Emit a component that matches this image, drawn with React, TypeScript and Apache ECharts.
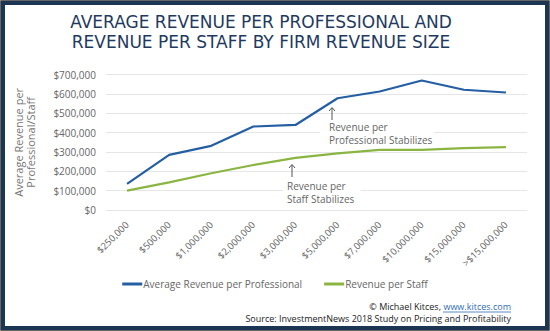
import React, { useEffect, useRef } from "react";
import * as echarts from "echarts";

const categories = ["$250,000", "$500,000", "$1,000,000", "$2,000,000", "$3,000,000", "$5,000,000", "$7,000,000", "$10,000,000", "$15,000,000", ">$15,000,000"];
const perProfessional = [135000, 285000, 332000, 432000, 440000, 578000, 613000, 670000, 622000, 608000];
const perStaff = [100000, 143000, 190000, 233000, 270000, 293000, 311000, 311000, 320000, 325000];
const seriesNames = ["Average Revenue per Professional", "Revenue per Staff"];
const titleLines = ["AVERAGE REVENUE PER PROFESSIONAL AND", "REVENUE PER STAFF BY FIRM REVENUE SIZE"];

const FONT = "'Open Sans', 'Noto Sans', sans-serif";
const TITLE_FONT = "'DejaVu Sans', 'Open Sans', sans-serif";

export default function App() {
  const ref = useRef<HTMLDivElement>(null);
  useEffect(() => {
    if (!ref.current) return;
    const chart = echarts.init(ref.current, null, { renderer: "svg" });
    chart.setOption({
      animation: false,
      backgroundColor: "#ffffff",
      textStyle: { fontFamily: FONT },
      grid: { left: 106, right: 23, top: 74.7, bottom: 121, containLabel: false },
      legend: {
        data: seriesNames,
        top: 274,
        left: "center",
        icon: "rect",
        itemWidth: 20,
        itemHeight: 3,
        itemGap: 22,
        textStyle: { fontSize: 10, color: "#666666", fontFamily: FONT, padding: [0, 0, 0, -4] },
      },
      xAxis: {
        type: "category",
        data: categories,
        boundaryGap: true,
        axisLine: { show: false },
        axisTick: { show: false },
        axisLabel: { rotate: 45, fontSize: 9.5, color: "#666666", margin: 13, interval: 0 },
      },
      yAxis: {
        type: "value",
        min: 0,
        max: 700000,
        interval: 100000,
        name: "Average Revenue per\nProfessional/Staff",
        nameLocation: "middle",
        nameRotate: 90,
        nameGap: 70,
        nameTextStyle: { fontSize: 11, color: "#777777", lineHeight: 12 },
        axisLabel: {
          fontSize: 10,
          color: "#666666",
          margin: 10,
          formatter: (v: number) => "$" + v.toLocaleString("en-US"),
        },
        splitLine: { lineStyle: { color: "#e6e6e6", width: 1 } },
      },
      series: [
        {
          name: seriesNames[0],
          type: "line",
          data: perProfessional,
          symbol: "none",
          lineStyle: { color: "#245ea3", width: 2.2 },
          itemStyle: { color: "#245ea3" },
          z: 3,
        },
        {
          name: seriesNames[1],
          type: "line",
          data: perStaff,
          symbol: "none",
          lineStyle: { color: "#8bb542", width: 2.2 },
          itemStyle: { color: "#8bb542" },
          z: 3,
        },
      ],
      graphic: [
        { type: "rect", shape: { x: 0.5, y: 0.5, width: 549, height: 330 }, style: { fill: "none", stroke: "#666666", lineWidth: 1 }, z: 100 },
        { type: "rect", shape: { x: 3, y: 3, width: 544, height: 325 }, style: { fill: "none", stroke: "#1c3552", lineWidth: 4 }, z: 100 },
        {
          type: "text", x: 261, y: 22,
          style: { text: titleLines[0], fill: "#1f3a5f", font: "17px " + TITLE_FONT, textAlign: "center", textVerticalAlign: "middle" },
        },
        {
          type: "text", x: 261, y: 42,
          style: { text: titleLines[1], fill: "#1f3a5f", font: "17px " + TITLE_FONT, textAlign: "center", textVerticalAlign: "middle" },
        },
        // annotation 1
        { type: "line", shape: { x1: 332, y1: 108, x2: 332, y2: 120 }, style: { stroke: "#555555", lineWidth: 1 }, z: 10 },
        { type: "polyline", shape: { points: [[329, 111], [332, 107.5], [335, 111]] }, style: { stroke: "#555555", lineWidth: 1, fill: "none" }, z: 10 },
        { type: "rect", shape: { x: 320, y: 121, width: 114, height: 25 }, style: { fill: "#ffffff" }, z: 9 },
        {
          type: "text", x: 329, y: 120.5,
          style: { text: "Revenue per\nProfessional Stabilizes", fill: "#666666", font: "10px " + FONT, lineHeight: 13 }, z: 10,
        },
        // annotation 2
        { type: "line", shape: { x1: 292, y1: 165, x2: 292, y2: 177 }, style: { stroke: "#555555", lineWidth: 1 }, z: 10 },
        { type: "polyline", shape: { points: [[289, 168], [292, 164.5], [295, 168]] }, style: { stroke: "#555555", lineWidth: 1, fill: "none" }, z: 10 },
        { type: "rect", shape: { x: 283, y: 179, width: 78, height: 26 }, style: { fill: "#ffffff" }, z: 9 },
        {
          type: "text", x: 287, y: 179,
          style: { text: "Revenue per\nStaff Stabilizes", fill: "#666666", font: "10px " + FONT, lineHeight: 13 }, z: 10,
        },
        // footer
        {
          type: "text", x: 441, y: 306.5,
          style: { text: "© Michael Kitces,", fill: "#222222", font: "9px " + FONT, lineHeight: 10, textAlign: "right", textVerticalAlign: "middle" },
        },
        {
          type: "text", x: 511, y: 306.5,
          style: { text: "www.kitces.com", fill: "#2f6db5", font: "9px " + FONT, lineHeight: 10, textAlign: "right", textVerticalAlign: "middle" },
        },
        { type: "line", shape: { x1: 443, y1: 312, x2: 511, y2: 312 }, style: { stroke: "#2f6db5", lineWidth: 0.8 } },
        {
          type: "text", x: 511, y: 318,
          style: { text: "Source: InvestmentNews 2018 Study on Pricing and Profitability", fill: "#222222", font: "9px " + FONT, lineHeight: 10, textAlign: "right", textVerticalAlign: "middle" },
        },
      ],
    });
    return () => chart.dispose();
  }, []);
  return <div ref={ref} style={{ position: "fixed", left: 0, top: 0, width: 550, height: 331 }} />;
}
